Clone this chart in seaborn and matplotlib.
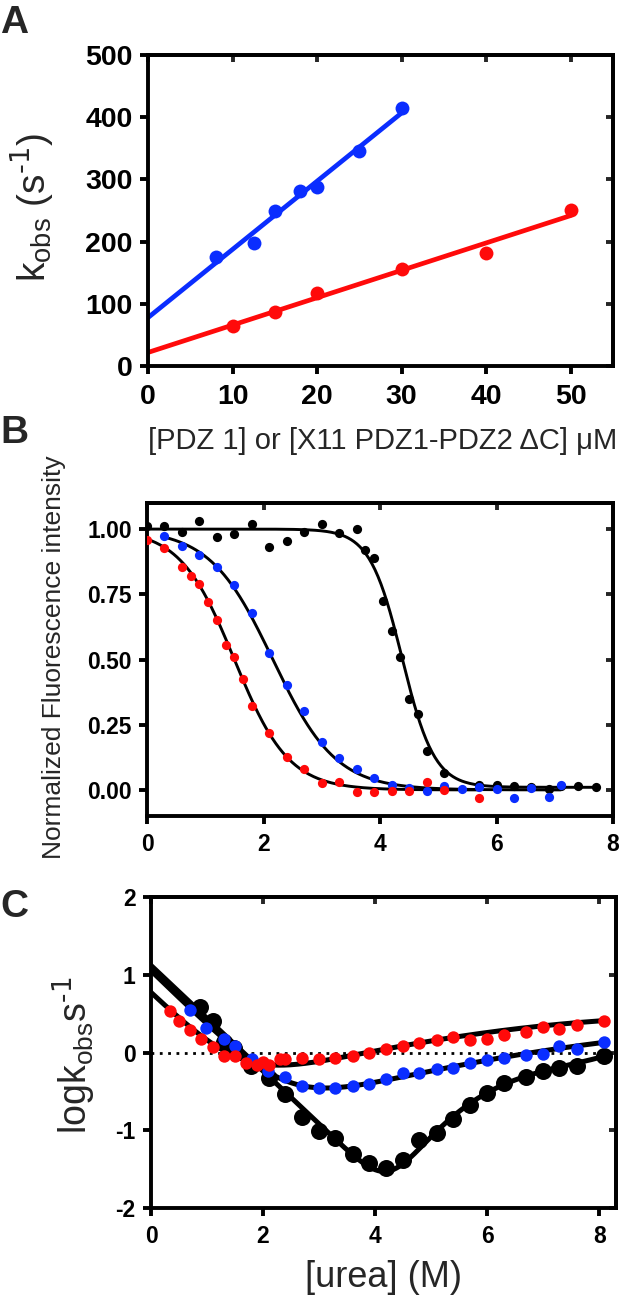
import numpy as np
import pandas as pd
import seaborn as sns
import matplotlib
matplotlib.use("Agg")
import matplotlib.pyplot as plt

sns.set_style("ticks")
plt.rcParams['font.family'] = ['Liberation Sans', 'DejaVu Sans']
plt.rcParams['mathtext.default'] = 'regular'
plt.rcParams['axes.unicode_minus'] = False

BLUE = "#0A2DFF"
RED = "#FF0A0A"
BLACK = "#000000"

# ---- panel A : kobs vs concentration ----
blue_conc = [8, 12.5, 15, 18, 20, 25, 30]
blue_kobs = [176, 198, 250, 282, 287, 346, 415]
red_conc = [10, 15, 20, 30, 40, 50]
red_kobs = [64, 87, 117, 156, 182, 251]

# ---- panel B : equilibrium denaturation ----
black_urea_b = [0, 0.3, 0.6, 0.9, 1.2, 1.5, 1.8, 2.1, 2.4, 2.7, 3.0, 3.3, 3.6, 3.75, 3.9,
                4.05, 4.2, 4.35, 4.5, 4.65, 4.8, 5.1, 5.7, 6.0, 6.3, 6.6, 6.9, 7.1, 7.4, 7.7]
black_fluo = [1.01, 1.01, 0.99, 1.03, 0.97, 0.98, 1.02, 0.93, 0.955, 0.99, 1.02, 0.985, 1.0, 0.92, 0.89,
              0.725, 0.61, 0.51, 0.35, 0.29, 0.15, 0.064, 0.017, 0.017, 0.014, 0.01, 0.004, 0.014, 0.014, 0.01]
blue_urea_b = [0.3, 0.6, 0.9, 1.2, 1.5, 1.8, 2.1, 2.4, 2.7, 3.0, 3.3, 3.6, 3.9, 4.2, 4.5, 4.8,
               5.1, 5.4, 5.7, 6.0, 6.3, 6.6, 6.9, 7.1]
blue_fluo = [0.975, 0.935, 0.90, 0.853, 0.785, 0.68, 0.524, 0.404, 0.303, 0.183, 0.124, 0.08, 0.045,
             0.019, 0.006, -0.003, 0.014, 0.004, 0.01, 0.004, -0.032, 0.006, -0.026, 0.017]
red_urea_b = [0, 0.3, 0.6, 0.75, 0.9, 1.05, 1.2, 1.35, 1.5, 1.65, 1.8, 2.1, 2.4, 2.7, 3.0, 3.3,
              3.6, 3.9, 4.2, 4.5, 4.8, 5.1, 5.7]
red_fluo = [0.958, 0.926, 0.856, 0.82, 0.79, 0.72, 0.65, 0.557, 0.51, 0.425, 0.32, 0.22, 0.128,
            0.079, 0.028, 0.032, -0.009, -0.009, -0.006, -0.006, 0.03, 0.001, -0.032]
# two-state fits: top, baseline, midpoint, steepness
black_sig = [1.0, 0.01, 4.38, 3.6]
blue_sig = [1.0, 0.0, 2.16, 1.85]
red_sig = [1.0, 0.0, 1.50, 2.15]

# ---- panel C : chevron plots ----
black_urea_c = [0.88, 1.1, 1.3, 1.49, 1.78, 2.1, 2.39, 2.7, 2.99, 3.29, 3.6, 3.9, 4.19, 4.5, 4.79,
                5.1, 5.39, 5.7, 6.0, 6.3, 6.69, 7.0, 7.29, 7.61, 8.08]
black_logk = [0.59, 0.40, 0.14, 0.06, -0.18, -0.33, -0.54, -0.83, -1.01, -1.10, -1.31, -1.42, -1.48,
              -1.38, -1.12, -1.03, -0.86, -0.67, -0.52, -0.39, -0.31, -0.24, -0.20, -0.18, -0.05]
blue_urea_c = [0.69, 0.99, 1.3, 1.5, 1.8, 2.09, 2.39, 2.7, 2.99, 3.29, 3.6, 3.9, 4.19, 4.5, 4.79,
               5.1, 5.39, 5.7, 6.0, 6.3, 6.69, 7.0, 7.29, 7.61, 8.08]
blue_logk = [0.55, 0.32, 0.18, 0.085, -0.085, -0.24, -0.31, -0.43, -0.46, -0.46, -0.43, -0.40, -0.34,
             -0.27, -0.26, -0.21, -0.20, -0.14, -0.10, -0.07, -0.03, -0.02, 0.08, 0.04, 0.14]
red_urea_c = [0.34, 0.5, 0.69, 0.9, 1.1, 1.3, 1.5, 1.7, 1.9, 2.0, 2.1, 2.3, 2.39, 2.7, 2.99, 3.29,
              3.6, 3.9, 4.19, 4.5, 4.79, 5.1, 5.39, 5.7, 6.0, 6.3, 6.69, 7.0, 7.29, 7.61, 8.08]
red_logk = [0.53, 0.40, 0.29, 0.18, 0.07, -0.05, -0.05, -0.14, -0.16, -0.12, -0.16, -0.09, -0.09,
            -0.07, -0.085, -0.07, -0.05, 0.0, 0.04, 0.08, 0.12, 0.16, 0.20, 0.16, 0.18, 0.23, 0.26,
            0.33, 0.30, 0.35, 0.41]
# chevron fits: folding arm (log kf0, slope), unfolding arm polynomial (centre, a, b, c, d)
black_fold = [1.12, -0.68]
black_unfold = [6.0, -0.52, 0.4017, -0.1561, 0.03444]
blue_fold = [1.05, -0.70]
blue_unfold = [5.7, -0.14, 0.137, -0.0099, 0.0]
red_fold = [0.76, -0.70]
red_unfold = [5.1, 0.16, 0.1185, -0.01162, 0.0]


def sigmoid(x, p):
    top, base, mid, m = p
    return base + (top - base) / (1 + np.exp(m * (x - mid)))


def chevron(x, fold, unfold):
    xc, a, b, c, d = unfold
    lf = fold[0] + fold[1] * x
    u = x - xc
    lu = a + b * u + c * u ** 2 + d * u ** 3
    return np.log10(10 ** lf + 10 ** lu)


SPW = 2.8
TICK_OUT = 6.0
TICK_IN = 5.0


def style_axes(ax, xticks, yticks, xlim, ylim, tsize, xpad=6, ypad=5):
    ax.set_xlim(*xlim)
    ax.set_ylim(*ylim)
    ax.set_xticks(xticks)
    ax.set_yticks(yticks)
    for s in ax.spines.values():
        s.set_visible(True)
        s.set_linewidth(SPW)
        s.set_color("black")
    ax.tick_params(direction="out", length=TICK_OUT, width=SPW,
                   labelsize=tsize, colors="black")
    ax.tick_params(axis="x", pad=xpad)
    ax.tick_params(axis="y", pad=ypad)
    for lab in ax.get_xticklabels() + ax.get_yticklabels():
        lab.set_fontweight("bold")
    top = ax.secondary_xaxis("top")
    top.set_xticks(xticks)
    top.tick_params(direction="in", length=TICK_IN, width=SPW, labeltop=False)
    top.spines["top"].set_linewidth(SPW)
    right = ax.secondary_yaxis("right")
    right.set_yticks(yticks)
    right.tick_params(direction="in", length=TICK_IN, width=SPW, labelright=False)
    right.spines["right"].set_linewidth(SPW)
    ax.grid(False)


fig = plt.figure(figsize=(6.25, 13.04), dpi=100)
W, H = 625.0, 1304.0


def add_axes(left, right, top, bottom):
    return fig.add_axes([left / W, 1 - bottom / H, (right - left) / W, (bottom - top) / H])


# ---------------- A ----------------
ax_a = add_axes(148, 613, 55, 366)
for conc, kobs, col in [(blue_conc, blue_kobs, BLUE), (red_conc, red_kobs, RED)]:
    slope, icpt = np.polyfit(conc, kobs, 1)
    xs = np.array([0, max(conc)])
    sns.lineplot(x=xs, y=icpt + slope * xs, color=col, lw=3.4, ax=ax_a, zorder=2)
    sns.scatterplot(x=conc, y=kobs, color=col, s=100, linewidth=0, ax=ax_a, zorder=3)
style_axes(ax_a, [0, 10, 20, 30, 40, 50], [0, 100, 200, 300, 400, 500], (0, 55), (0, 500), 20.5,
           xpad=7, ypad=5)
ax_a.set_ylabel("k$_{obs}$ (s$^{\\text{-1}}$)", fontsize=28, va="center")
ax_a.yaxis.set_label_coords(-0.25, 0.51)
ax_a.set_xlabel("[PDZ 1] or [X11 PDZ1-PDZ2 \u0394C] \u03bcM", fontsize=21, va="center")
ax_a.xaxis.set_label_coords(0.505, -0.241)

# ---------------- B ----------------
ax_b = add_axes(147, 613, 503, 816)
for urea, p in [(black_urea_b, black_sig), (blue_urea_b, blue_sig), (red_urea_b, red_sig)]:
    xs = np.linspace(min(urea), max(urea), 300)
    sns.lineplot(x=xs, y=sigmoid(xs, p), color=BLACK, lw=2.1, ax=ax_b, zorder=2)
for urea, fl, col in [(black_urea_b, black_fluo, BLACK), (blue_urea_b, blue_fluo, BLUE),
                      (red_urea_b, red_fluo, RED)]:
    sns.scatterplot(x=urea, y=fl, color=col, s=44, linewidth=0, ax=ax_b, zorder=3)
style_axes(ax_b, [0, 2, 4, 6, 8], [0.0, 0.25, 0.5, 0.75, 1.0], (0, 8), (-0.1, 1.1), 16.5)
ax_b.set_yticklabels(["0.00", "0.25", "0.50", "0.75", "1.00"], fontweight="bold")
ax_b.set_ylabel("Normalized Fluorescence intensity", fontsize=19, va="center")
ax_b.yaxis.set_label_coords(-0.200, 0.508)

# ---------------- C ----------------
ax_c = add_axes(151, 616, 897, 1208)
ax_c.axhline(0, color="black", lw=2.0, ls=(0, (1, 2)), zorder=1)
xs = np.linspace(0, 8.08, 300)
for fold, unfold in [(red_fold, red_unfold), (blue_fold, blue_unfold), (black_fold, black_unfold)]:
    sns.lineplot(x=xs, y=chevron(xs, fold, unfold), color=BLACK, lw=3.6, ax=ax_c, zorder=2)
sns.scatterplot(x=black_urea_c, y=black_logk, color=BLACK, s=150, linewidth=0, ax=ax_c, zorder=3)
sns.scatterplot(x=blue_urea_c, y=blue_logk, color=BLUE, s=80, linewidth=0, ax=ax_c, zorder=4)
sns.scatterplot(x=red_urea_c, y=red_logk, color=RED, s=80, linewidth=0, ax=ax_c, zorder=5)
style_axes(ax_c, [0, 2, 4, 6, 8], [-2, -1, 0, 1, 2], (0, 8.3), (-2, 2), 16.5)
ax_c.set_ylabel("logk$_{obs}$s$^{\\text{-1}}$", fontsize=27, va="center")
ax_c.yaxis.set_label_coords(-0.166, 0.49)
ax_c.set_xlabel("[urea] (M)", fontsize=26, va="center")
ax_c.xaxis.set_label_coords(0.5, -0.222)

for letter, ytop in [("A", 5), ("B", 415), ("C", 889)]:
    fig.text(0.0, 1 - ytop / H, letter, fontsize=28, fontweight="bold", ha="left", va="top")

fig.savefig("out.png", dpi=100)
